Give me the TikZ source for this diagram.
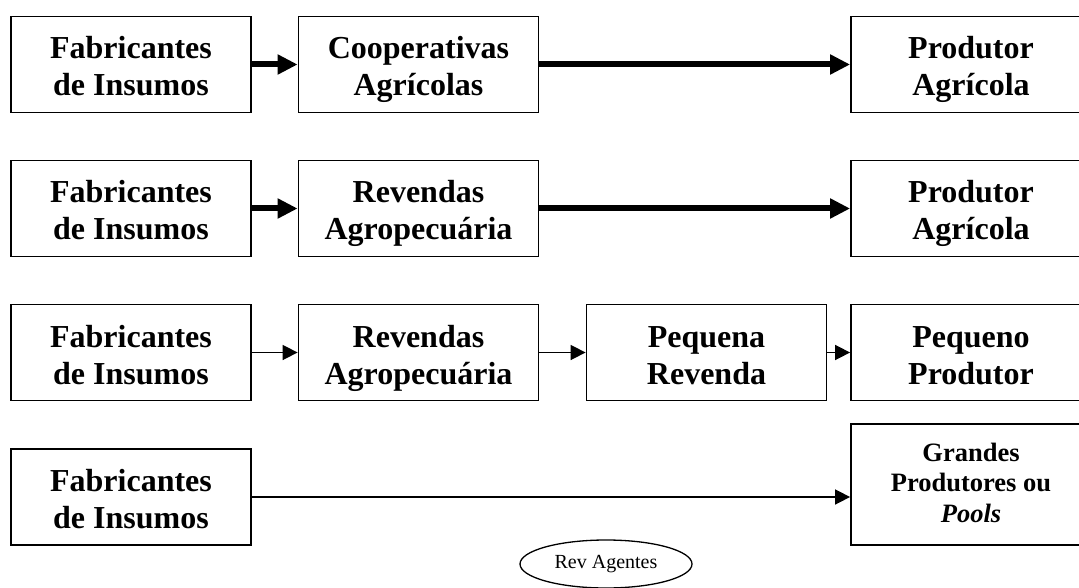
\documentclass[tikz,border=0pt]{standalone}
\usepackage{fontspec}
\setmainfont{Liberation Serif}
\usetikzlibrary{arrows.meta,shapes.geometric}

% two-line box text with fixed first-line height and last-line depth
\newcommand\twolines[2]{\rule{0pt}{35pt}#1\\#2\rule[-9pt]{0pt}{9pt}}
\newcommand\threelines[3]{\rule{0pt}{22pt}#1\\#2\\#3\rule[-8pt]{0pt}{8pt}}

\tikzset{
  box/.style={draw, line width=1.8pt, minimum width=240pt, minimum height=96pt,
    align=center, font=\fontsize{32}{37}\selectfont\bfseries, inner sep=0pt},
  smallbox/.style={box, minimum height=121pt, font=\fontsize{26.5}{30.5}\selectfont\bfseries},
  thickarrow/.style={line width=6pt, -{Triangle[length=20pt,width=19pt]}},
  thinarrow/.style={line width=1.6pt, -{Triangle[length=15pt,width=15pt]}},
  oval/.style={draw, ellipse, line width=1.3pt, minimum width=172pt, minimum height=48pt,
    inner sep=0pt, font=\fontsize{20}{24}\selectfont}
}

\begin{document}
\begin{tikzpicture}[x=1pt,y=-1pt]
\useasboundingbox (0,0) rectangle (1079,588);
\clip (0,0) rectangle (1079,588);

% Row 1: cooperatives
\node[box] (f1) at (131,64.5) {\twolines{Fabricantes}{de Insumos}};
\node[box] (c1) at (418.5,64.5) {\twolines{Cooperativas}{Agrícolas}};
\node[box] (p1) at (971,64.5) {\twolines{Produtor}{Agrícola}};
\draw[thickarrow] (f1) -- (c1);
\draw[thickarrow] (c1) -- (p1);

% Row 2: retailers
\node[box] (f2) at (131,208.5) {\twolines{Fabricantes}{de Insumos}};
\node[box] (r2) at (418.5,208.5) {\twolines{Revendas}{Agropecuária}};
\node[box] (p2) at (971,208.5) {\twolines{Produtor}{Agrícola}};
\draw[thickarrow] (f2) -- (r2);
\draw[thickarrow] (r2) -- (p2);

% Row 3: small retailers
\node[box] (f3) at (131,352.5) {\twolines{Fabricantes}{de Insumos}};
\node[box] (r3) at (418.5,352.5) {\twolines{Revendas}{Agropecuária}};
\node[box] (q3) at (706.5,352.5) {\twolines{Pequena}{Revenda}};
\node[box] (p3) at (971,352.5) {\twolines{Pequeno}{Produtor}};
\draw[thinarrow] (f3) -- (r3);
\draw[thinarrow] (r3) -- (q3);
\draw[thinarrow] (q3) -- (p3);

% Row 4: direct sales
\node[box] (f4) at (131,497) {\twolines{Fabricantes}{de Insumos}};
\node[smallbox] (g4) at (971,484.5) {\threelines{Grandes}{Produtores ou}{\textit{Pools}}};
\draw[thinarrow] (f4.east) -- (f4.east -| g4.west);

\node[oval] (ra) at (606,564) {Rev Agentes};
\end{tikzpicture}
\end{document}
